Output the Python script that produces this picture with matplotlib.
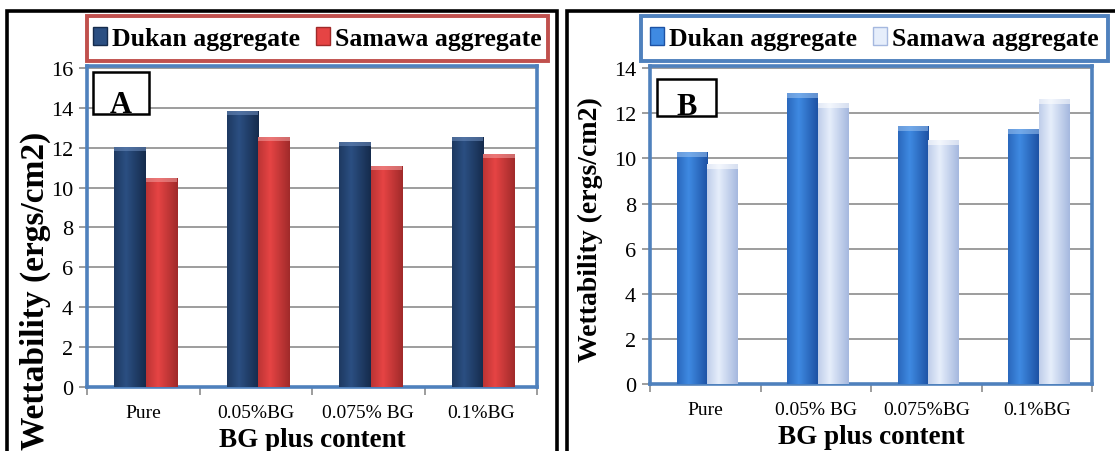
import matplotlib
matplotlib.use('Agg')
import matplotlib.pyplot as plt
import numpy as np
from matplotlib.patches import Rectangle
from matplotlib.colors import LinearSegmentedColormap

categories_a = ['Pure', '0.05%BG', '0.075% BG', '0.1%BG']
categories_b = ['Pure', '0.05% BG', '0.075%BG', '0.1%BG']
dukan_a = [12.05, 13.85, 12.3, 12.55]
samawa_a = [10.5, 12.55, 11.1, 11.7]
dukan_b = [10.3, 12.9, 11.45, 11.3]
samawa_b = [9.75, 12.45, 10.8, 12.65]
series_names = ['Dukan aggregate', 'Samawa aggregate']

W, H = 1115, 452
plt.rcParams['font.family'] = ['Liberation Serif', 'DejaVu Serif']


def frac(x0, y0, x1, y1):
    # pixel box (top-left origin) -> figure fraction [l, b, w, h]
    return [x0 / W, 1 - y1 / H, (x1 - x0) / W, (y1 - y0) / H]


def grad_cmap(edge, mid):
    return LinearSegmentedColormap.from_list('g', [edge, mid, edge], N=256)


def gradient_bars(ax, xs, vals, width, edge, mid, cap):
    cmap = grad_cmap(edge, mid)
    g = np.linspace(0, 1, 256)
    g = np.clip(np.abs(g - 0.38) / 0.62, 0, 1)[None, :]
    g = 0.5 + 0.5 * g
    bars = ax.bar(xs, vals, width, color=mid, zorder=3, linewidth=0)
    for b in bars:
        x0 = b.get_x()
        h = b.get_height()
        im = ax.imshow(1 - g, cmap=cmap, aspect='auto', vmin=0, vmax=1,
                       extent=(x0, x0 + width, 0, h), zorder=3.5)
        im.set_clip_path(b)
        ax.add_patch(Rectangle((x0, h - 0.22), width, 0.22, color=cap,
                               alpha=0.55, zorder=4, linewidth=0))
    return bars


def panel(fig, box, cats, d, s, ymax, colors, label, label_box, legend_box,
          legend_edge, ylab_size, ylab_pos):
    ax = fig.add_axes(frac(*box))
    x = np.arange(len(cats))
    w = 0.28
    gradient_bars(ax, x - w / 2 + 0.02, d, w, *colors[0])
    gradient_bars(ax, x + w / 2 + 0.02, s, w, *colors[1])
    ax.set_xlim(-0.5, len(cats) - 0.5)
    ax.set_ylim(0, ymax)
    ax.set_yticks(np.arange(0, int(ymax) + 1, 2))
    ax.yaxis.grid(True, color='#8c8c8c', linewidth=1.2, zorder=0)
    ax.set_axisbelow(True)
    for sp in ax.spines.values():
        sp.set_color('#4f81bd')
        sp.set_linewidth(2.6)
    ax.set_xticks(x)
    ax.set_xticklabels(cats, fontsize=14)
    ax.set_xticks(np.arange(-0.5, len(cats)), minor=True)
    ax.tick_params(axis='x', which='major', length=0, pad=12)
    ax.tick_params(axis='x', which='minor', length=6, color='#8c8c8c',
                   width=1.2)
    ax.tick_params(axis='y', length=6, color='#8c8c8c', width=1.2,
                   labelsize=16, pad=4)
    ax.set_xlabel('BG plus content', fontsize=19.5, fontweight='bold',
                  labelpad=0)
    ax.xaxis.set_label_coords(0.5, -0.125)
    # y label placed on the figure, centred on the panel like the reference
    fig.text(ylab_pos[0] / W, 1 - ylab_pos[1] / H, 'Wettability (ergs/cm2)',
             rotation=90, ha='center', va='center', fontsize=ylab_size,
             fontweight='bold')

    # panel letter box
    lx0, ly0, lx1, ly1 = label_box
    fig.patches.append(Rectangle((lx0 / W, 1 - ly1 / H), (lx1 - lx0) / W,
                                 (ly1 - ly0) / H, transform=fig.transFigure,
                                 facecolor='white', edgecolor='black',
                                 linewidth=1.8, zorder=5))
    fig.text((lx0 + lx1) / 2 / W, 1 - (ly1 - 2) / H, label, ha='center',
             va='baseline', fontsize=22, fontweight='bold', zorder=6)

    handles = [Rectangle((0, 0), 1, 1, facecolor=colors[0][1],
                         edgecolor=colors[0][0], linewidth=1),
               Rectangle((0, 0), 1, 1, facecolor=colors[1][1],
                         edgecolor=colors[1][0], linewidth=1)]
    lb = frac(*legend_box)
    fig.legend(handles, series_names, loc='center',
               bbox_to_anchor=(lb[0], lb[1], lb[2], lb[3]),
               bbox_transform=fig.transFigure, ncol=2, frameon=False,
               handlelength=0.55, handleheight=0.7,
               handletextpad=0.2, columnspacing=0.6, borderpad=0.3,
               prop={'size': 18.5, 'weight': 'bold'})
    fig.patches.append(Rectangle((lb[0], lb[1]), lb[2], lb[3],
                                 transform=fig.transFigure, fill=False,
                                 edgecolor=legend_edge, linewidth=2.8))
    return ax


fig = plt.figure(figsize=(W / 100, H / 100), dpi=100)

# outer panel borders
for x0, x1 in [(7, 557), (567, 1125)]:
    fig.patches.append(Rectangle((x0 / W, -0.1), (x1 - x0) / W,
                                 1.1 - 12 / H, transform=fig.transFigure,
                                 fill=False, edgecolor='black', linewidth=2.6))

panel(fig, (87, 67, 537, 388), categories_a, dukan_a, samawa_a, 16.1,
      [('#152b4c', '#2b4f82', '#6f8fbf'), ('#a02a2a', '#e64444', '#f4a0a0')],
      'A', (93, 73, 149, 115), (87, 17, 548, 62), '#c0504d', 24, (35, 291))
panel(fig, (650, 67, 1092, 385), categories_b, dukan_b, samawa_b, 14.1,
      [('#1d52a4', '#3f8ae2', '#9cc4f2'), ('#a5b8df', '#e6eefb', '#ffffff')],
      'B', (657, 80, 716, 117), (641, 17, 1108, 62), '#4f81bd', 20, (590, 230))

fig.savefig('out.png', dpi=100)
